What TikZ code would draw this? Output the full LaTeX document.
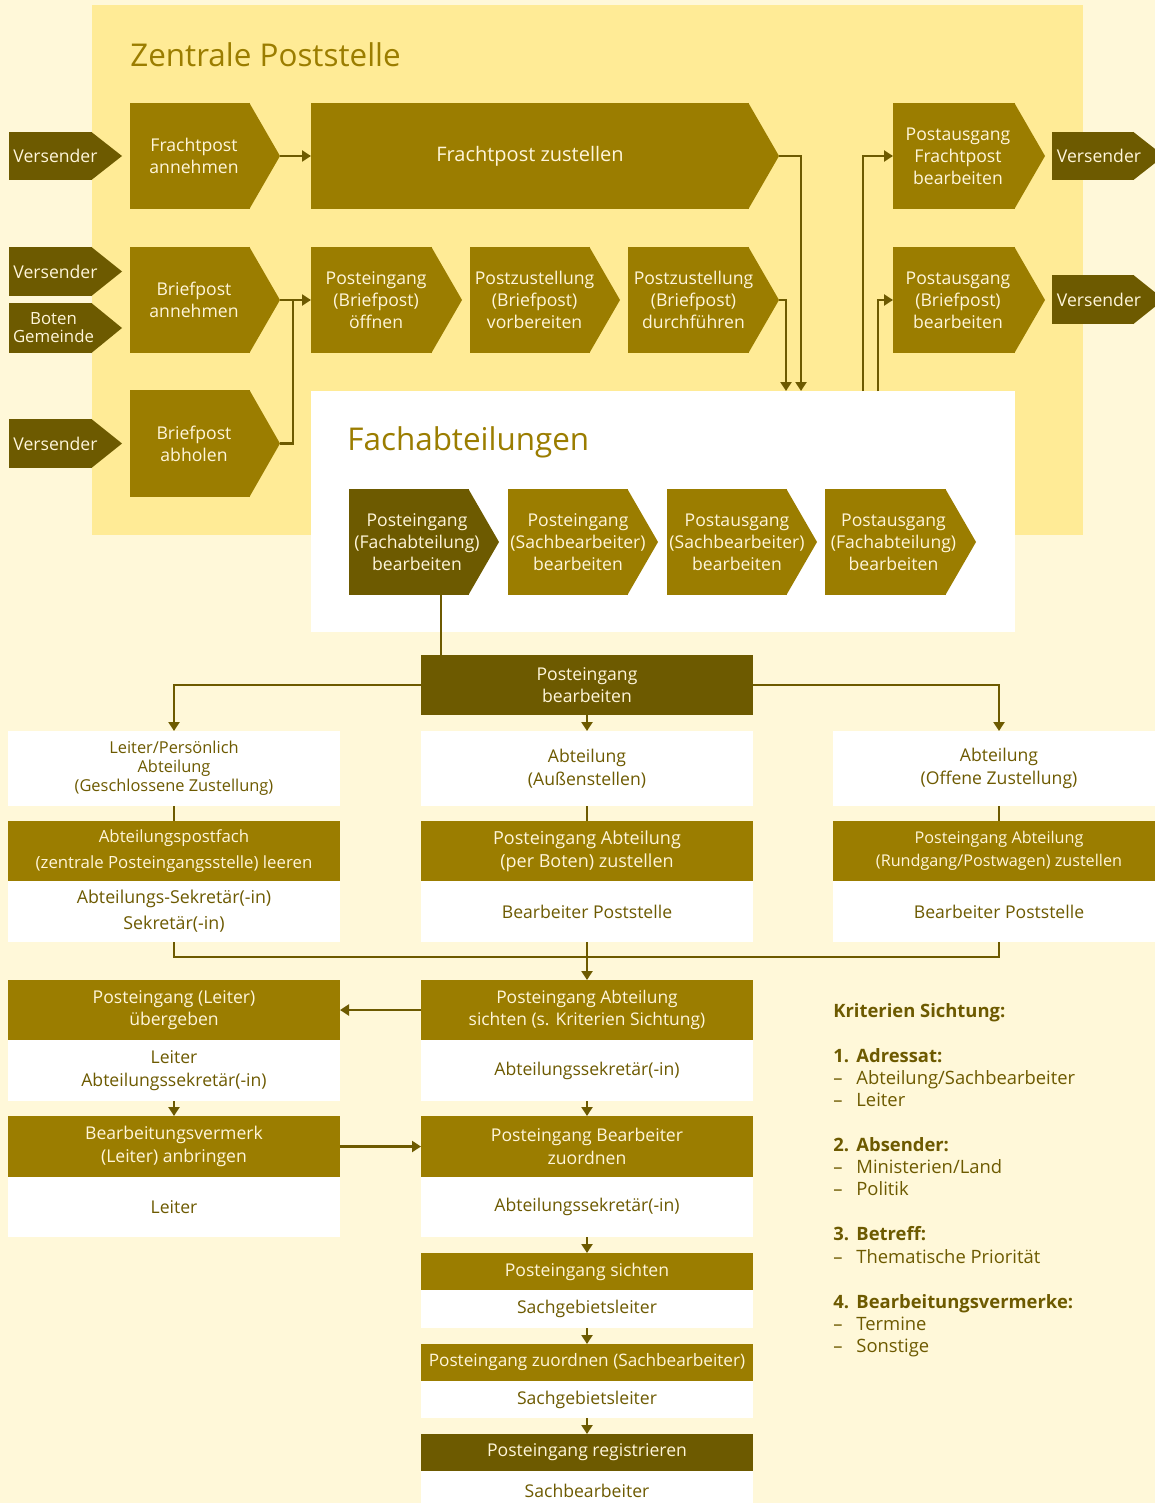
\documentclass[tikz,border=0pt]{standalone}
\usepackage{fontspec}
\setmainfont{Open Sans}
\usetikzlibrary{arrows.meta}
\definecolor{cream}{HTML}{FFF8D9}
\definecolor{zbg}{HTML}{FFEB96}
\definecolor{olive}{HTML}{9B7D00}
\definecolor{dolive}{HTML}{6D5A00}
\definecolor{wtext}{HTML}{FFF6DA}
\newcommand\fs[2]{\fontsize{#1}{#2}\selectfont}
\newcommand\mychev[6][olive]{%
  \pgfmathsetmacro\chw{(#5-30-#3)*0.5}%
  \pgfmathsetmacro\chh{(#6-#4)*0.5}%
  \node[fill=#1, minimum width=\chw pt, minimum height=\chh pt, inner sep=0pt, outer sep=0pt, anchor=north west] (#2) at (#3,#4) {};%
  \coordinate (#2-tip) at (#5,{(#4+#6)/2});%
  \fill[#1] ([xshift=-0.3pt]#2.north east) -- (#2-tip) -- ([xshift=-0.3pt]#2.south east) -- cycle;%
}
\begin{document}
\begin{tikzpicture}[x=0.5pt,y=-0.5pt,
  wl/.style={text=wtext, align=center, inner sep=0pt, font=\fs{8.8}{11}},
  box/.style={inner sep=0pt, outer sep=0pt, anchor=north west, minimum width=166pt, align=center},
  obox/.style={box, fill=olive, text=wtext, font=\fs{8.8}{11.25}},
  dbox/.style={box, fill=dolive, text=wtext, font=\fs{8.8}{11.25}},
  wbox/.style={box, fill=white, text=dolive, font=\fs{8.8}{11.5}},
  conn/.style={draw=dolive, line width=1.1pt},
  arr/.style={conn, -{Triangle[width=5.5pt,length=4.5pt]}},
  krit/.style={anchor=base west, inner sep=0pt, text=dolive, font=\fs{9.2}{11.25}},
]
\useasboundingbox (0,0) rectangle (1155,1503);
\clip (0,0) rectangle (1155,1503);
\fill[cream] (0,0) rectangle (1155,1503);
\fill[zbg] (92,5) rectangle (1083,535);
\node[anchor=base west, text=olive, font=\fs{15.7}{18}, inner sep=0pt] (zt) at (130,67) {Zentrale Poststelle};

% top row
\mychev[dolive]{vs1}{9}{132}{122}{180}
\node[wl] (vs1t) at ([xshift=2.5pt]vs1.center) {Versender};
\mychev{fa}{130}{103}{280}{209}
\node[wl] (fat) at ([xshift=2pt]fa.center) {Frachtpost\\annehmen};
\mychev{fz}{311}{103}{779}{209}
\node[wl, font=\fs{10}{12}] (fzt) at (fz.center) {Frachtpost zustellen};
\mychev{af}{893}{103}{1045}{209}
\node[wl] (aft) at ([xshift=2pt]af.center) {Postausgang\\Frachtpost\\bearbeiten};
\mychev[dolive]{vr1}{1052}{132}{1164}{180}
\node[wl] (vr1t) at ([xshift=3pt]vr1.center) {Versender};

% second row
\mychev[dolive]{vs2}{9}{247}{122}{296}
\node[wl] (vs2t) at ([xshift=2.5pt]vs2.center) {Versender};
\mychev[dolive]{bg}{9}{303}{122}{353}
\node[wl, font=\fs{8.4}{9}] (bgt) at ([xshift=1.5pt]bg.center) {Boten\\Gemeinde};
\mychev{ba}{130}{247}{280}{353}
\node[wl] (bat) at ([xshift=2pt]ba.center) {Briefpost\\annehmen};
\mychev{po}{311}{247}{462}{353}
\node[wl] (pot) at ([xshift=2.3pt]po.center) {Posteingang\\(Briefpost)\\öffnen};
\mychev{pv}{470}{247}{620}{353}
\node[wl] (pvt) at ([xshift=2.3pt]pv.center) {Postzustellung\\(Briefpost)\\vorbereiten};
\mychev{pd}{628}{247}{779}{353}
\node[wl] (pdt) at ([xshift=2.5pt]pd.center) {Postzustellung\\(Briefpost)\\durchführen};
\mychev{ab}{893}{247}{1045}{353}
\node[wl] (abt) at ([xshift=2pt]ab.center) {Postausgang\\(Briefpost)\\bearbeiten};
\mychev[dolive]{vr2}{1052}{275}{1164}{324}
\node[wl] (vr2t) at ([xshift=3pt]vr2.center) {Versender};

% third row
\mychev[dolive]{vs3}{9}{419}{122}{468}
\node[wl] (vs3t) at ([xshift=2.5pt]vs3.center) {Versender};
\mychev{bh}{130}{390}{280}{497}
\node[wl] (bht) at ([xshift=2pt]bh.center) {Briefpost\\abholen};

% Fachabteilungen
\fill[white] (311,391) rectangle (1015,632);
\node[anchor=base west, text=olive, font=\fs{15.7}{18}, inner sep=0pt] (ft) at (347,450) {Fachabteilungen};
\mychev[dolive]{f1}{349}{489}{499}{595}
\node[wl] (f1t) at ([xshift=4pt]f1.center) {Posteingang\\(Fachabteilung)\\bearbeiten};
\mychev{f2}{508}{489}{658}{595}
\node[wl] (f2t) at ([xshift=5pt]f2.center) {Posteingang\\(Sachbearbeiter)\\bearbeiten};
\mychev{f3}{667}{489}{817}{595}
\node[wl] (f3t) at ([xshift=5pt]f3.center) {Postausgang\\(Sachbearbeiter)\\bearbeiten};
\mychev{f4}{825}{489}{976}{595}
\node[wl] (f4t) at ([xshift=4pt]f4.center) {Postausgang\\(Fachabteilung)\\bearbeiten};

% top connectors
\coordinate (j1) at (293,300);
\coordinate (in1) at (801,391);
\coordinate (in2) at (786,391);
\coordinate (out1) at (863,391);
\coordinate (out2) at (878,391);
\draw[arr] (fa-tip) -- (fz.west);
\draw[arr] (ba-tip) -- (po.west);
\draw[conn] (bh-tip) -| (j1);
\draw[arr] (fz-tip) -| (in1);
\draw[arr] (pd-tip) -| (in2);
\draw[arr] (out1) |- (af.west);
\draw[arr] (out2) |- (ab.west);

% lower part
\node[dbox, minimum height=30pt] (pb) at (421,655) {Posteingang\\bearbeiten};
\coordinate (f1b) at (441,595);
\draw[conn] (f1b) -- (f1b |- pb.north);

\node[wbox, minimum height=37.5pt, font=\fs{8.2}{9.6}] (w1) at (8,731) {Leiter/Persönlich\\Abteilung\\(Geschlossene Zustellung)};
\node[wbox, minimum height=37.5pt] (w2) at (421,731) {Abteilung\\(Außenstellen)};
\node[wbox, minimum height=37.5pt] (w3) at (833,731) {Abteilung\\(Offene Zustellung)};
\node[obox, minimum height=30pt, font=\fs{8.4}{13}] (o1) at (8,821) {Abteilungspostfach\\(zentrale Posteingangsstelle) leeren};
\node[obox, minimum height=30pt, font=\fs{9}{11.5}] (o2) at (421,821) {Posteingang Abteilung\\(per Boten) zustellen};
\node[obox, minimum height=30pt, font=\fs{8.1}{11.5}] (o3) at (833,821) {Posteingang Abteilung\\(Rundgang/Postwagen) zustellen};
\node[wbox, minimum height=30.5pt, font=\fs{8.9}{13}] (s1) at (8,881) {Abteilungs-Sekretär(-in)\\Sekretär(-in)};
\node[wbox, minimum height=30.5pt] (s2) at (421,881) {Bearbeiter Poststelle};
\node[wbox, minimum height=30.5pt] (s3) at (833,881) {Bearbeiter Poststelle};

\draw[arr] (pb.west) -| (w1.north);
\draw[arr] (pb.east) -| (w3.north);
\draw[arr] (pb.south) -- (w2.north);
\draw[conn] (w1.south) -- (o1.north);
\draw[conn] (w2.south) -- (o2.north);
\draw[conn] (w3.south) -- (o3.north);

\node[obox, minimum height=30pt] (l1) at (8,980) {Posteingang (Leiter)\\übergeben};
\node[wbox, minimum height=30.5pt] (l1w) at (8,1040) {Leiter\\Abteilungssekretär(-in)};
\node[obox, minimum height=30pt, font=\fs{8.7}{11.25}] (m1) at (421,980) {Posteingang Abteilung\\sichten (s. Kriterien Sichtung)};
\node[wbox, minimum height=30.5pt] (m1w) at (421,1040) {Abteilungssekretär(-in)};
\draw[conn] (s1.south) -- ++(0,15) -| (s3.south);
\draw[arr] (s2.south) -- (m1.north);
\draw[arr] (m1.west) -- (l1.east);

\node[obox, minimum height=30.5pt] (l2) at (8,1116) {Bearbeitungsvermerk\\(Leiter) anbringen};
\node[wbox, minimum height=30pt] (l2w) at (8,1177) {Leiter};
\node[obox, minimum height=30.5pt] (m2) at (421,1116) {Posteingang Bearbeiter\\zuordnen};
\node[wbox, minimum height=30pt] (m2w) at (421,1177) {Abteilungssekretär(-in)};
\draw[arr] (l1w.south) -- (l2.north);
\draw[arr] (m1w.south) -- (m2.north);
\draw[arr] (l2.east) -- (m2.west);

\node[obox, minimum height=18.5pt] (m3) at (421,1253) {Posteingang sichten};
\node[wbox, minimum height=19pt] (m3w) at (421,1290) {Sachgebietsleiter};
\node[obox, minimum height=18.5pt, font=\fs{8.6}{11}] (m4) at (421,1344) {Posteingang zuordnen (Sachbearbeiter)};
\node[wbox, minimum height=18.5pt] (m4w) at (421,1381) {Sachgebietsleiter};
\node[dbox, minimum height=18.5pt] (m5) at (421,1434) {Posteingang registrieren};
\node[wbox, minimum height=19.5pt] (m5w) at (421,1471) {Sachbearbeiter};
\draw[arr] (m2w.south) -- (m3.north);
\draw[arr] (m3w.south) -- (m4.north);
\draw[arr] (m4w.south) -- (m5.north);

% Kriterien
\node[krit, font=\fs{9.2}{11}\bfseries] (k1) at (833,1017) {Kriterien Sichtung:};
\node[krit, font=\fs{9.2}{11}\bfseries] (k2) at (833,1062) {\makebox[11.5pt][l]{1.}Adressat:};
\node[krit] (k3) at (833,1084) {\makebox[11.5pt][l]{–}Abteilung/Sachbearbeiter};
\node[krit] (k4) at (833,1106) {\makebox[11.5pt][l]{–}Leiter};
\node[krit, font=\fs{9.2}{11}\bfseries] (k5) at (833,1151) {\makebox[11.5pt][l]{2.}Absender:};
\node[krit] (k6) at (833,1173) {\makebox[11.5pt][l]{–}Ministerien/Land};
\node[krit] (k7) at (833,1195) {\makebox[11.5pt][l]{–}Politik};
\node[krit, font=\fs{9.2}{11}\bfseries] (k8) at (833,1240) {\makebox[11.5pt][l]{3.}Betreff:};
\node[krit] (k9) at (833,1263) {\makebox[11.5pt][l]{–}Thematische Priorität};
\node[krit, font=\fs{9.2}{11}\bfseries] (k10) at (833,1308) {\makebox[11.5pt][l]{4.}Bearbeitungsvermerke:};
\node[krit] (k11) at (833,1330) {\makebox[11.5pt][l]{–}Termine};
\node[krit] (k12) at (833,1352) {\makebox[11.5pt][l]{–}Sonstige};
\end{tikzpicture}
\end{document}
